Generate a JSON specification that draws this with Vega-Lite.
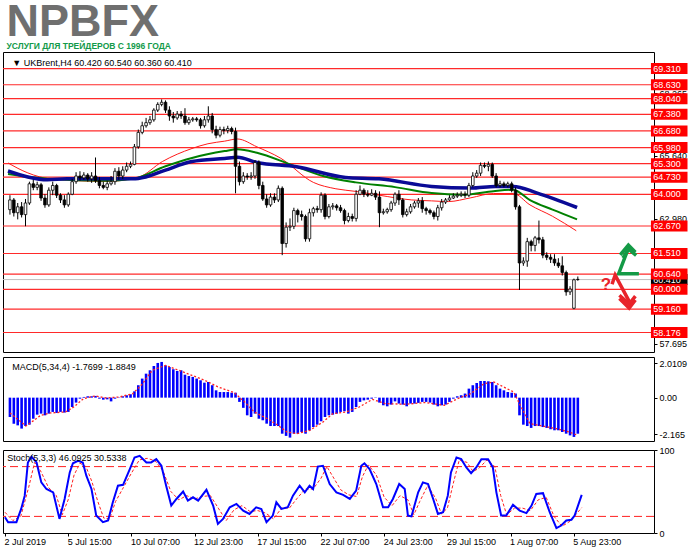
{
"$schema": "https://vega.github.io/schema/vega-lite/v6.json",
"padding": 0,
"background": "#ffffff",
"spacing": 3,
"title": {"text": "NPBFX", "subtitle": "УСЛУГИ ДЛЯ ТРЕЙДЕРОВ С 1996 ГОДА", "anchor": "start", "dx": 6, "font": "Liberation Sans", "fontSize": 45, "fontWeight": "bold", "color": "#6f6f6f", "subtitleFont": "Liberation Sans", "subtitleFontSize": 8.5, "subtitleFontWeight": "bold", "subtitleColor": "#139a4a", "subtitlePadding": -3, "offset": 1},
"config": {"view": {"stroke": "#000000", "strokeWidth": 1}, "font": "Liberation Sans", "axis": {"labelFont": "Liberation Sans", "labelFontSize": 9, "labelColor": "#000000", "tickColor": "#000000", "domain": false, "grid": false, "tickSize": 3}},
"datasets": {
"candles": [
{"i":0,"o":63.36,"h":63.97,"l":63.15,"c":63.77},
{"i":1,"o":63.77,"h":63.85,"l":63.07,"c":63.23},
{"i":2,"o":63.23,"h":63.64,"l":62.95,"c":63.48},
{"i":3,"o":63.48,"h":63.68,"l":63.03,"c":63.15},
{"i":4,"o":63.15,"h":63.81,"l":62.66,"c":63.64},
{"i":5,"o":63.64,"h":64.54,"l":63.56,"c":64.45},
{"i":6,"o":64.45,"h":64.62,"l":64.18,"c":64.30},
{"i":7,"o":64.30,"h":64.54,"l":64.18,"c":64.41},
{"i":8,"o":64.41,"h":64.49,"l":63.73,"c":63.85},
{"i":9,"o":63.85,"h":64.01,"l":63.44,"c":63.56},
{"i":10,"o":63.56,"h":64.30,"l":63.48,"c":64.18},
{"i":11,"o":64.18,"h":64.54,"l":63.97,"c":64.38},
{"i":12,"o":64.38,"h":64.45,"l":63.85,"c":63.97},
{"i":13,"o":63.97,"h":64.05,"l":63.64,"c":63.77},
{"i":14,"o":63.77,"h":63.97,"l":63.44,"c":63.56},
{"i":15,"o":63.56,"h":64.09,"l":63.48,"c":64.01},
{"i":16,"o":64.01,"h":64.66,"l":63.97,"c":64.54},
{"i":17,"o":64.54,"h":64.94,"l":64.45,"c":64.78},
{"i":18,"o":64.78,"h":64.98,"l":64.58,"c":64.70},
{"i":19,"o":64.70,"h":64.94,"l":64.62,"c":64.82},
{"i":20,"o":64.82,"h":64.90,"l":64.54,"c":64.66},
{"i":21,"o":64.66,"h":64.94,"l":64.49,"c":64.78},
{"i":22,"o":64.78,"h":65.56,"l":64.49,"c":64.58},
{"i":23,"o":64.58,"h":64.74,"l":64.26,"c":64.38},
{"i":24,"o":64.38,"h":64.54,"l":64.22,"c":64.30},
{"i":25,"o":64.30,"h":64.58,"l":64.18,"c":64.45},
{"i":26,"o":64.45,"h":64.78,"l":64.38,"c":64.54},
{"i":27,"o":64.54,"h":65.11,"l":64.41,"c":64.98},
{"i":28,"o":64.98,"h":65.15,"l":64.62,"c":64.78},
{"i":29,"o":64.78,"h":65.19,"l":64.66,"c":65.03},
{"i":30,"o":65.03,"h":65.35,"l":64.94,"c":65.19},
{"i":31,"o":65.19,"h":65.39,"l":65.11,"c":65.27},
{"i":32,"o":65.27,"h":66.13,"l":65.23,"c":66.01},
{"i":33,"o":66.01,"h":66.74,"l":65.93,"c":66.62},
{"i":34,"o":66.62,"h":67.07,"l":66.54,"c":66.90},
{"i":35,"o":66.90,"h":67.23,"l":66.82,"c":67.03},
{"i":36,"o":67.03,"h":67.31,"l":66.94,"c":67.15},
{"i":37,"o":67.15,"h":67.64,"l":67.07,"c":67.56},
{"i":38,"o":67.56,"h":67.89,"l":67.48,"c":67.80},
{"i":39,"o":67.80,"h":68.01,"l":67.72,"c":67.89},
{"i":40,"o":67.89,"h":67.97,"l":67.44,"c":67.56},
{"i":41,"o":67.56,"h":67.72,"l":67.11,"c":67.31},
{"i":42,"o":67.31,"h":67.48,"l":67.03,"c":67.23},
{"i":43,"o":67.23,"h":67.52,"l":67.15,"c":67.39},
{"i":44,"o":67.39,"h":67.52,"l":67.19,"c":67.31},
{"i":45,"o":67.31,"h":67.64,"l":66.94,"c":67.03},
{"i":46,"o":67.03,"h":67.27,"l":66.94,"c":67.15},
{"i":47,"o":67.15,"h":67.27,"l":67.07,"c":67.19},
{"i":48,"o":67.19,"h":67.27,"l":67.07,"c":67.15},
{"i":49,"o":67.15,"h":67.23,"l":66.78,"c":66.90},
{"i":50,"o":66.90,"h":67.31,"l":66.82,"c":67.15},
{"i":51,"o":67.15,"h":67.72,"l":67.03,"c":67.31},
{"i":52,"o":67.31,"h":67.44,"l":66.58,"c":66.74},
{"i":53,"o":66.74,"h":66.90,"l":66.37,"c":66.50},
{"i":54,"o":66.50,"h":66.86,"l":66.41,"c":66.74},
{"i":55,"o":66.74,"h":66.86,"l":66.54,"c":66.70},
{"i":56,"o":66.70,"h":66.90,"l":66.58,"c":66.78},
{"i":57,"o":66.78,"h":66.86,"l":66.54,"c":66.66},
{"i":58,"o":66.66,"h":66.82,"l":64.05,"c":65.19},
{"i":59,"o":65.19,"h":65.39,"l":64.38,"c":64.54},
{"i":60,"o":64.54,"h":64.94,"l":64.45,"c":64.78},
{"i":61,"o":64.78,"h":64.90,"l":64.62,"c":64.74},
{"i":62,"o":64.74,"h":64.94,"l":64.62,"c":64.78},
{"i":63,"o":64.78,"h":65.44,"l":64.66,"c":65.35},
{"i":64,"o":65.35,"h":65.44,"l":64.22,"c":64.38},
{"i":65,"o":64.38,"h":64.54,"l":63.73,"c":63.81},
{"i":66,"o":63.81,"h":64.01,"l":63.44,"c":63.56},
{"i":67,"o":63.56,"h":64.05,"l":63.48,"c":63.89},
{"i":68,"o":63.89,"h":64.05,"l":63.64,"c":63.77},
{"i":69,"o":63.77,"h":64.38,"l":63.68,"c":64.26},
{"i":70,"o":64.26,"h":64.34,"l":61.44,"c":61.93},
{"i":71,"o":61.93,"h":62.82,"l":61.76,"c":62.62},
{"i":72,"o":62.62,"h":62.99,"l":62.46,"c":62.66},
{"i":73,"o":62.66,"h":63.44,"l":62.54,"c":63.32},
{"i":74,"o":63.32,"h":63.40,"l":62.82,"c":63.15},
{"i":75,"o":63.15,"h":63.32,"l":62.90,"c":63.07},
{"i":76,"o":63.07,"h":63.15,"l":62.01,"c":62.13},
{"i":77,"o":62.13,"h":63.40,"l":62.01,"c":63.23},
{"i":78,"o":63.23,"h":63.48,"l":63.07,"c":63.40},
{"i":79,"o":63.40,"h":63.52,"l":63.23,"c":63.36},
{"i":80,"o":63.36,"h":64.09,"l":63.23,"c":63.97},
{"i":81,"o":63.97,"h":64.05,"l":62.95,"c":63.07},
{"i":82,"o":63.07,"h":63.60,"l":62.99,"c":63.48},
{"i":83,"o":63.48,"h":63.64,"l":63.36,"c":63.52},
{"i":84,"o":63.52,"h":63.60,"l":63.32,"c":63.44},
{"i":85,"o":63.44,"h":63.56,"l":63.23,"c":63.32},
{"i":86,"o":63.32,"h":63.40,"l":62.74,"c":62.90},
{"i":87,"o":62.90,"h":63.23,"l":62.82,"c":63.07},
{"i":88,"o":63.07,"h":63.19,"l":62.86,"c":62.99},
{"i":89,"o":62.99,"h":64.18,"l":62.86,"c":64.01},
{"i":90,"o":64.01,"h":64.38,"l":63.97,"c":64.18},
{"i":91,"o":64.18,"h":64.26,"l":63.89,"c":64.01},
{"i":92,"o":64.01,"h":64.18,"l":63.89,"c":63.97},
{"i":93,"o":63.97,"h":64.22,"l":63.93,"c":64.05},
{"i":94,"o":64.05,"h":64.18,"l":63.77,"c":63.89},
{"i":95,"o":63.89,"h":64.13,"l":62.62,"c":63.23},
{"i":96,"o":63.23,"h":63.40,"l":63.15,"c":63.27},
{"i":97,"o":63.27,"h":63.44,"l":63.19,"c":63.36},
{"i":98,"o":63.36,"h":63.73,"l":63.27,"c":63.64},
{"i":99,"o":63.64,"h":64.09,"l":63.52,"c":64.01},
{"i":100,"o":64.01,"h":64.18,"l":63.56,"c":63.77},
{"i":101,"o":63.77,"h":63.85,"l":63.03,"c":63.15},
{"i":102,"o":63.15,"h":63.40,"l":63.07,"c":63.27},
{"i":103,"o":63.27,"h":63.60,"l":63.19,"c":63.48},
{"i":104,"o":63.48,"h":63.73,"l":63.40,"c":63.64},
{"i":105,"o":63.64,"h":63.85,"l":63.44,"c":63.73},
{"i":106,"o":63.73,"h":63.89,"l":63.23,"c":63.40},
{"i":107,"o":63.40,"h":63.48,"l":63.15,"c":63.32},
{"i":108,"o":63.32,"h":63.40,"l":63.15,"c":63.23},
{"i":109,"o":63.23,"h":63.32,"l":62.95,"c":63.07},
{"i":110,"o":63.07,"h":63.56,"l":62.90,"c":63.44},
{"i":111,"o":63.44,"h":63.81,"l":63.32,"c":63.68},
{"i":112,"o":63.68,"h":63.85,"l":63.60,"c":63.77},
{"i":113,"o":63.77,"h":63.97,"l":63.73,"c":63.85},
{"i":114,"o":63.85,"h":64.05,"l":63.81,"c":63.93},
{"i":115,"o":63.93,"h":64.09,"l":63.85,"c":63.97},
{"i":116,"o":63.97,"h":64.13,"l":63.89,"c":64.01},
{"i":117,"o":64.01,"h":64.13,"l":63.85,"c":63.97},
{"i":118,"o":63.97,"h":64.49,"l":63.89,"c":64.38},
{"i":119,"o":64.38,"h":64.94,"l":64.30,"c":64.78},
{"i":120,"o":64.78,"h":65.03,"l":64.70,"c":64.90},
{"i":121,"o":64.90,"h":65.35,"l":64.78,"c":65.23},
{"i":122,"o":65.23,"h":65.35,"l":65.11,"c":65.19},
{"i":123,"o":65.19,"h":65.39,"l":64.98,"c":65.27},
{"i":124,"o":65.27,"h":65.35,"l":64.70,"c":64.78},
{"i":125,"o":64.78,"h":64.90,"l":64.30,"c":64.38},
{"i":126,"o":64.38,"h":64.58,"l":64.30,"c":64.45},
{"i":127,"o":64.45,"h":64.54,"l":64.30,"c":64.38},
{"i":128,"o":64.38,"h":64.54,"l":64.30,"c":64.45},
{"i":129,"o":64.45,"h":64.54,"l":64.09,"c":64.18},
{"i":130,"o":64.18,"h":64.30,"l":63.36,"c":63.48},
{"i":131,"o":63.48,"h":63.56,"l":59.97,"c":61.11},
{"i":132,"o":61.11,"h":61.35,"l":60.99,"c":61.19},
{"i":133,"o":61.19,"h":62.17,"l":60.95,"c":62.01},
{"i":134,"o":62.01,"h":62.09,"l":61.60,"c":61.85},
{"i":135,"o":61.85,"h":62.25,"l":61.60,"c":62.17},
{"i":136,"o":62.17,"h":62.90,"l":61.93,"c":62.09},
{"i":137,"o":62.09,"h":62.21,"l":61.31,"c":61.44},
{"i":138,"o":61.44,"h":61.56,"l":61.23,"c":61.35},
{"i":139,"o":61.35,"h":61.48,"l":61.11,"c":61.27},
{"i":140,"o":61.27,"h":61.48,"l":60.99,"c":61.11},
{"i":141,"o":61.11,"h":61.31,"l":60.90,"c":60.99},
{"i":142,"o":60.99,"h":61.39,"l":60.58,"c":60.71},
{"i":143,"o":60.71,"h":60.79,"l":59.73,"c":59.89},
{"i":144,"o":59.89,"h":60.13,"l":59.76,"c":60.01},
{"i":145,"o":59.20,"h":60.45,"l":59.16,"c":60.40},
{"i":146,"o":60.42,"h":60.54,"l":60.36,"c":60.41}
],
"levels": [{"level":69.31},{"level":68.63},{"level":68.04},{"level":67.38},{"level":66.68},{"level":65.98},{"level":65.30},{"level":64.73},{"level":64.00},{"level":62.67},{"level":61.51},{"level":60.64},{"level":60.00},{"level":59.16},{"level":58.176}],
"cur": [{"p":60.41}],
"ma": [
{"ma":"slow","i":-0.5,"p":64.99},{"ma":"slow","i":4.6,"p":64.74},{"ma":"slow","i":9.6,"p":64.62},{"ma":"slow","i":14.7,"p":64.66},{"ma":"slow","i":24.8,"p":64.66},{"ma":"slow","i":31.6,"p":64.66},{"ma":"slow","i":34.9,"p":64.74},{"ma":"slow","i":40,"p":65.03},{"ma":"slow","i":46.8,"p":65.39},{"ma":"slow","i":55.2,"p":65.52},{"ma":"slow","i":58.5,"p":65.57},{"ma":"slow","i":63.5,"p":65.35},{"ma":"slow","i":73.7,"p":65.17},{"ma":"slow","i":86.3,"p":64.72},{"ma":"slow","i":94.9,"p":64.66},{"ma":"slow","i":108.4,"p":64.34},{"ma":"slow","i":118.5,"p":64.27},{"ma":"slow","i":124.8,"p":64.34},{"ma":"slow","i":129.4,"p":64.34},{"ma":"slow","i":135.4,"p":64.07},{"ma":"slow","i":145.8,"p":63.45},
{"ma":"mid","i":-0.5,"p":64.86},{"ma":"mid","i":9.6,"p":64.66},{"ma":"mid","i":24.8,"p":64.58},{"ma":"mid","i":31.6,"p":64.66},{"ma":"mid","i":40,"p":65.19},{"ma":"mid","i":46.8,"p":65.54},{"ma":"mid","i":55.2,"p":65.83},{"ma":"mid","i":58.5,"p":65.91},{"ma":"mid","i":63.5,"p":65.76},{"ma":"mid","i":72.2,"p":65.26},{"ma":"mid","i":80.5,"p":64.78},{"ma":"mid","i":88.9,"p":64.51},{"ma":"mid","i":99,"p":64.31},{"ma":"mid","i":108.4,"p":64.06},{"ma":"mid","i":116.7,"p":63.99},{"ma":"mid","i":124.3,"p":64.14},{"ma":"mid","i":129.4,"p":64.2},{"ma":"mid","i":133.7,"p":63.76},{"ma":"mid","i":139.5,"p":63.36},{"ma":"mid","i":145.8,"p":62.95},
{"ma":"fast","i":-0.5,"p":65.33},{"ma":"fast","i":4.6,"p":64.91},{"ma":"fast","i":10.4,"p":64.66},{"ma":"fast","i":24.8,"p":64.55},{"ma":"fast","i":33.2,"p":64.74},{"ma":"fast","i":39.2,"p":65.39},{"ma":"fast","i":46.8,"p":65.94},{"ma":"fast","i":50.9,"p":66.14},{"ma":"fast","i":55.2,"p":66.25},{"ma":"fast","i":58.5,"p":66.34},{"ma":"fast","i":63.5,"p":66.01},{"ma":"fast","i":69.6,"p":65.53},{"ma":"fast","i":78,"p":64.51},{"ma":"fast","i":83.8,"p":64.24},{"ma":"fast","i":88.9,"p":64.13},{"ma":"fast","i":94.9,"p":63.97},{"ma":"fast","i":103.3,"p":63.77},{"ma":"fast","i":108.4,"p":63.73},{"ma":"fast","i":112.7,"p":63.7},{"ma":"fast","i":118.5,"p":63.86},{"ma":"fast","i":124.3,"p":64.04},{"ma":"fast","i":129.4,"p":64.04},{"ma":"fast","i":133.7,"p":63.56},{"ma":"fast","i":139.5,"p":63.08},{"ma":"fast","i":145.6,"p":62.47}
],
"arrows": [
{"dir":"up","seg":"u0","k":0,"i":161.7,"p":60.66},{"dir":"up","seg":"u0","k":1,"i":156.5,"p":60.66},{"dir":"up","seg":"u0","k":2,"i":159,"p":61.73},
{"dir":"up","seg":"u1","k":0,"i":156.9,"p":61.45},{"dir":"up","seg":"u1","k":1,"i":159,"p":61.86},{"dir":"up","seg":"u1","k":2,"i":160.8,"p":61.56},
{"dir":"up","seg":"u2","k":0,"i":157.6,"p":61.32},{"dir":"up","seg":"u2","k":1,"i":159,"p":61.7},{"dir":"up","seg":"u2","k":2,"i":161,"p":61.43},
{"dir":"down","seg":"d0","k":0,"i":154.8,"p":60.21},{"dir":"down","seg":"d0","k":1,"i":155.6,"p":60.6},{"dir":"down","seg":"d0","k":2,"i":159.8,"p":59.31},
{"dir":"down","seg":"d1","k":0,"i":156.7,"p":59.61},{"dir":"down","seg":"d1","k":1,"i":159.2,"p":59.21},{"dir":"down","seg":"d1","k":2,"i":160.8,"p":59.55},
{"dir":"down","seg":"d2","k":0,"i":156.7,"p":59.75},{"dir":"down","seg":"d2","k":1,"i":159.2,"p":59.38},{"dir":"down","seg":"d2","k":2,"i":160.8,"p":59.71}
],
"macd": [
{"i":0,"v":-1.14},{"i":1,"v":-1.53},{"i":2,"v":-1.63},{"i":3,"v":-1.82},{"i":4,"v":-1.67},{"i":5,"v":-1.59},{"i":6,"v":-1.24},{"i":7,"v":-1.0},{"i":8,"v":-0.94},{"i":9,"v":-1.04},
{"i":10,"v":-0.94},{"i":11,"v":-0.84},{"i":12,"v":-0.9},{"i":13,"v":-0.84},{"i":14,"v":-0.88},{"i":15,"v":-0.84},{"i":16,"v":-0.55},{"i":17,"v":-0.29},{"i":18,"v":-0.06},{"i":19,"v":0.04},
{"i":20,"v":0.08},{"i":21,"v":0.08},{"i":22,"v":0.1},{"i":23,"v":-0.06},{"i":24,"v":-0.12},{"i":25,"v":-0.1},{"i":26,"v":-0.22},{"i":27,"v":-0.06},{"i":28,"v":-0.02},{"i":29,"v":0.08},
{"i":30,"v":0.14},{"i":31,"v":0.2},{"i":32,"v":0.37},{"i":33,"v":0.73},{"i":34,"v":1.12},{"i":35,"v":1.41},{"i":36,"v":1.61},{"i":37,"v":1.86},{"i":38,"v":2.04},{"i":39,"v":2.1},
{"i":40,"v":1.9},{"i":41,"v":1.8},{"i":42,"v":1.67},{"i":43,"v":1.57},{"i":44,"v":1.61},{"i":45,"v":1.35},{"i":46,"v":1.27},{"i":47,"v":1.22},{"i":48,"v":1.12},{"i":49,"v":1.02},
{"i":50,"v":0.88},{"i":51,"v":0.92},{"i":52,"v":0.73},{"i":53,"v":0.43},{"i":54,"v":0.33},{"i":55,"v":0.33},{"i":56,"v":0.33},{"i":57,"v":0.29},{"i":58,"v":0.29},{"i":59,"v":-0.25},
{"i":60,"v":-0.6},{"i":61,"v":-1.04},{"i":62,"v":-1.14},{"i":63,"v":-0.94},{"i":64,"v":-1.24},{"i":65,"v":-1.33},{"i":66,"v":-1.53},{"i":67,"v":-1.67},{"i":68,"v":-1.67},{"i":69,"v":-1.67},
{"i":70,"v":-2.12},{"i":71,"v":-2.25},{"i":72,"v":-2.35},{"i":73,"v":-2.12},{"i":74,"v":-2.12},{"i":75,"v":-2.02},{"i":76,"v":-2.12},{"i":77,"v":-1.92},{"i":78,"v":-1.73},{"i":79,"v":-1.59},
{"i":80,"v":-1.39},{"i":81,"v":-1.14},{"i":82,"v":-1.04},{"i":83,"v":-1.0},{"i":84,"v":-0.94},{"i":85,"v":-0.84},{"i":86,"v":-0.8},{"i":87,"v":-0.94},{"i":88,"v":-0.84},{"i":89,"v":-0.55},
{"i":90,"v":-0.25},{"i":91,"v":-0.16},{"i":92,"v":-0.12},{"i":93,"v":-0.06},{"i":94,"v":-0.02},{"i":95,"v":-0.29},{"i":96,"v":-0.45},{"i":97,"v":-0.51},{"i":98,"v":-0.41},{"i":99,"v":-0.22},
{"i":100,"v":-0.35},{"i":101,"v":-0.41},{"i":102,"v":-0.51},{"i":103,"v":-0.35},{"i":104,"v":-0.35},{"i":105,"v":-0.31},{"i":106,"v":-0.25},{"i":107,"v":-0.25},{"i":108,"v":-0.29},{"i":109,"v":-0.41},
{"i":110,"v":-0.51},{"i":111,"v":-0.45},{"i":112,"v":-0.41},{"i":113,"v":-0.25},{"i":114,"v":-0.06},{"i":115,"v":0.08},{"i":116,"v":0.14},{"i":117,"v":0.24},{"i":118,"v":0.53},{"i":119,"v":0.73},
{"i":120,"v":0.86},{"i":121,"v":0.98},{"i":122,"v":0.98},{"i":123,"v":0.96},{"i":124,"v":0.92},{"i":125,"v":0.73},{"i":126,"v":0.53},{"i":127,"v":0.43},{"i":128,"v":0.33},{"i":129,"v":0.29},
{"i":130,"v":0.24},{"i":131,"v":-1.04},{"i":132,"v":-1.59},{"i":133,"v":-1.67},{"i":134,"v":-1.78},{"i":135,"v":-1.67},{"i":136,"v":-1.67},{"i":137,"v":-1.73},{"i":138,"v":-1.78},{"i":139,"v":-1.86},
{"i":140,"v":-1.92},{"i":141,"v":-1.92},{"i":142,"v":-2.02},{"i":143,"v":-2.12},{"i":144,"v":-2.22},{"i":145,"v":-2.31},{"i":146,"v":-2.12}
],
"macdsig": [
{"i":0,"s":-0.9},{"i":4.1,"s":-1.67},{"i":6.2,"s":-1.33},{"i":7.9,"s":-1.04},{"i":10.5,"s":-0.9},{"i":14.3,"s":-0.84},{"i":16.4,"s":-0.55},{"i":18.9,"s":-0.06},{"i":21.9,"s":0.1},{"i":24.8,"s":-0.02},{"i":28.2,"s":0.04},{"i":31.6,"s":0.24},{"i":34.1,"s":0.82},{"i":36.6,"s":1.61},{"i":40,"s":1.9},{"i":43.4,"s":1.61},{"i":46.8,"s":1.31},{"i":50.1,"s":1.02},{"i":53.5,"s":0.63},{"i":57.7,"s":0.29},{"i":60.3,"s":-0.25},{"i":62.8,"s":-0.84},{"i":66.2,"s":-1.24},{"i":68.7,"s":-1.59},{"i":71.2,"s":-2.02},{"i":73.8,"s":-2.12},{"i":77.1,"s":-1.92},{"i":80.5,"s":-1.43},{"i":83,"s":-0.94},{"i":86.4,"s":-0.84},{"i":89.8,"s":-0.55},{"i":93.2,"s":-0.1},{"i":96.5,"s":-0.35},{"i":101.6,"s":-0.39},{"i":106.7,"s":-0.29},{"i":111.7,"s":-0.45},{"i":115.1,"s":-0.06},{"i":118.5,"s":0.24},{"i":121.9,"s":0.82},{"i":124.4,"s":0.92},{"i":126.9,"s":0.63},{"i":129.5,"s":0.33},{"i":131.2,"s":-0.45},{"i":133.7,"s":-1.53},{"i":137,"s":-1.67},{"i":140.4,"s":-1.82},{"i":143.8,"s":-2.02},{"i":146,"s":-2.22}
],
"stoch": [
{"i":0,"k":19},{"i":0.8,"k":13},{"i":2.9,"k":13},{"i":4.1,"k":29},{"i":5,"k":45},{"i":5.8,"k":85},{"i":6.7,"k":92},{"i":8,"k":85},{"i":9.2,"k":61},{"i":10.5,"k":53},{"i":12.2,"k":49},{"i":13,"k":33},{"i":13.8,"k":17},{"i":15.1,"k":41},{"i":16.4,"k":73},{"i":17.2,"k":84},{"i":18.5,"k":87},{"i":19.7,"k":85},{"i":20.6,"k":69},{"i":21.9,"k":53},{"i":23.1,"k":21},{"i":24.8,"k":13},{"i":26.1,"k":15},{"i":27.3,"k":37},{"i":28.6,"k":57},{"i":29.9,"k":58},{"i":31.6,"k":77},{"i":32.8,"k":91},{"i":34.1,"k":93},{"i":35.8,"k":85},{"i":37,"k":85},{"i":38.3,"k":89},{"i":39.6,"k":81},{"i":40.8,"k":57},{"i":42.1,"k":33},{"i":43.4,"k":41},{"i":45.1,"k":50},{"i":46.3,"k":39},{"i":47.6,"k":43},{"i":48.9,"k":39},{"i":51,"k":52},{"i":52.7,"k":33},{"i":53.9,"k":11},{"i":55.2,"k":17},{"i":56.9,"k":31},{"i":58.6,"k":35},{"i":60.3,"k":27},{"i":61.9,"k":23},{"i":63.6,"k":31},{"i":64.9,"k":29},{"i":66.2,"k":13},{"i":67.8,"k":21},{"i":68.7,"k":37},{"i":70,"k":29},{"i":71.6,"k":31},{"i":72.9,"k":45},{"i":74.6,"k":57},{"i":75.9,"k":49},{"i":77.1,"k":57},{"i":78,"k":53},{"i":79.2,"k":80},{"i":80.5,"k":81},{"i":82.2,"k":59},{"i":83.9,"k":49},{"i":85.6,"k":46},{"i":87.3,"k":41},{"i":88.9,"k":51},{"i":90.2,"k":81},{"i":91,"k":84},{"i":92.3,"k":77},{"i":94,"k":59},{"i":95.7,"k":31},{"i":97,"k":31},{"i":98.2,"k":41},{"i":99.8,"k":59},{"i":101.2,"k":53},{"i":102,"k":21},{"i":102.9,"k":20},{"i":104.6,"k":49},{"i":105.8,"k":61},{"i":107.1,"k":59},{"i":108.4,"k":41},{"i":109.6,"k":23},{"i":110.9,"k":25},{"i":112.1,"k":45},{"i":112.9,"k":73},{"i":114.3,"k":91},{"i":115.5,"k":89},{"i":116.8,"k":79},{"i":118,"k":72},{"i":119.3,"k":79},{"i":120.6,"k":89},{"i":122.3,"k":89},{"i":123.5,"k":79},{"i":124.4,"k":49},{"i":125.6,"k":21},{"i":126.9,"k":21},{"i":128.6,"k":34},{"i":130.3,"k":27},{"i":132,"k":24},{"i":133.3,"k":33},{"i":134.5,"k":47},{"i":136.2,"k":48},{"i":137.9,"k":25},{"i":139.6,"k":6},{"i":140.8,"k":9},{"i":142.1,"k":15},{"i":143.4,"k":16},{"i":144.2,"k":21},{"i":146,"k":46}
],
"stochsig": [
{"i":0,"d":25},{"i":2,"d":15},{"i":4,"d":20},{"i":6,"d":55},{"i":7.5,"d":85},{"i":9,"d":75},{"i":11,"d":55},{"i":13,"d":45},{"i":14.5,"d":22},{"i":16,"d":40},{"i":17.5,"d":70},{"i":19,"d":84},{"i":20.5,"d":80},{"i":22,"d":62},{"i":23.5,"d":38},{"i":25,"d":18},{"i":26.5,"d":17},{"i":28,"d":38},{"i":30,"d":55},{"i":32,"d":72},{"i":34,"d":88},{"i":36,"d":90},{"i":38,"d":87},{"i":40,"d":75},{"i":42,"d":50},{"i":44,"d":40},{"i":46,"d":45},{"i":48,"d":41},{"i":50,"d":44},{"i":52,"d":45},{"i":54,"d":30},{"i":56,"d":15},{"i":58,"d":28},{"i":60,"d":33},{"i":62,"d":26},{"i":64,"d":27},{"i":66,"d":24},{"i":68,"d":17},{"i":70,"d":30},{"i":72,"d":30},{"i":74,"d":42},{"i":76,"d":53},{"i":78,"d":53},{"i":80,"d":66},{"i":81.5,"d":80},{"i":83,"d":68},{"i":85,"d":52},{"i":87,"d":46},{"i":89,"d":44},{"i":90.5,"d":68},{"i":92,"d":82},{"i":94,"d":70},{"i":96,"d":43},{"i":98,"d":33},{"i":100,"d":45},{"i":102,"d":40},{"i":103.5,"d":22},{"i":105,"d":38},{"i":107,"d":57},{"i":109,"d":42},{"i":110.5,"d":23},{"i":112,"d":30},{"i":113.5,"d":60},{"i":115,"d":88},{"i":117,"d":85},{"i":118.5,"d":74},{"i":120,"d":78},{"i":122,"d":88},{"i":124,"d":80},{"i":125.5,"d":45},{"i":127,"d":22},{"i":129,"d":30},{"i":131,"d":30},{"i":133,"d":27},{"i":135,"d":40},{"i":137,"d":43},{"i":139,"d":20},{"i":141,"d":8},{"i":143,"d":14},{"i":145,"d":25},{"i":146,"d":30.5}
],
"stochlv": [{"lv":80},{"lv":20}],
"one": [{"n":1}]
},
"vconcat": [
{
"width": 651, "height": 300,
"layer": [
{"data":{"name":"levels"},"mark":{"type":"rule","color":"#ff2a2a","strokeWidth":1.2},
 "encoding":{"y":{"field":"level","type":"quantitative","title":null,"scale":{"domain":[57.565,69.8],"nice":false,"zero":false},
   "axis":{"orient":"right","values":[69.595,68.265,66.97,65.64,64.31,62.98,61.65,60.32,59.025,57.695],"labelExpr":"format(datum.value,'.3f')","tickSize":3,"labelPadding":2,"labelFontSize":9}}}},
{"data":{"name":"cur"},"mark":{"type":"rule","color":"#c0c0c0","strokeWidth":1},"encoding":{"y":{"field":"p","type":"quantitative","title":null}}},
{"data":{"name":"ma"},"transform":[{"filter":"datum.ma == 'fast'"}],"mark":{"type":"line","color":"#ff1a1a","strokeWidth":1,"interpolate":"monotone"},
 "encoding":{"x":{"field":"i","type":"quantitative","scale":{"domain":[-0.5,164.3],"nice":false,"zero":false},"axis":null},"y":{"field":"p","type":"quantitative","title":null}}},
{"data":{"name":"ma"},"transform":[{"filter":"datum.ma == 'mid'"}],"mark":{"type":"line","color":"#008000","strokeWidth":2,"interpolate":"monotone"},
 "encoding":{"x":{"field":"i","type":"quantitative","axis":null},"y":{"field":"p","type":"quantitative","title":null}}},
{"data":{"name":"ma"},"transform":[{"filter":"datum.ma == 'slow'"}],"mark":{"type":"line","color":"#0a0a96","strokeWidth":3.5,"interpolate":"monotone"},
 "encoding":{"x":{"field":"i","type":"quantitative","axis":null},"y":{"field":"p","type":"quantitative","title":null}}},
{"data":{"name":"candles"},"mark":{"type":"rule","color":"#000000","strokeWidth":1},
 "encoding":{"x":{"field":"i","type":"quantitative","axis":null},"y":{"field":"l","type":"quantitative","title":null},"y2":{"field":"h"}}},
{"data":{"name":"candles"},"mark":{"type":"bar","width":2.6,"stroke":"#000000","strokeWidth":0.8},
 "encoding":{"x":{"field":"i","type":"quantitative","axis":null},"y":{"field":"o","type":"quantitative","title":null},"y2":{"field":"c"},
   "fill":{"condition":{"test":"datum.c < datum.o","value":"#000000"},"value":"#ffffff"}}},
{"data":{"name":"arrows"},"mark":{"type":"line","strokeWidth":3.5,"strokeJoin":"miter","strokeCap":"butt"},
 "encoding":{"x":{"field":"i","type":"quantitative","axis":null},"y":{"field":"p","type":"quantitative","title":null},"detail":{"field":"seg"},"order":{"field":"k"},
   "color":{"field":"dir","type":"nominal","legend":null,"scale":{"domain":["up","down"],"range":["#149a46","#e8232a"]}}}},
{"data":{"name":"one"},"mark":{"type":"text","text":"?","color":"#e8232a","fontSize":17,"fontWeight":"bold","font":"Liberation Sans"},
 "encoding":{"x":{"datum":153.2,"type":"quantitative","axis":null},"y":{"datum":60.2,"type":"quantitative","title":null}}},
{"data":{"name":"one"},"mark":{"type":"text","text":"▼  UKBrent,H4  60.420 60.540 60.360 60.410","align":"left","baseline":"middle","fontSize":9,"color":"#000000","font":"Liberation Sans"},
 "encoding":{"x":{"datum":0.6,"type":"quantitative","axis":null},"y":{"datum":69.55,"type":"quantitative","title":null}}},
{"data":{"name":"cur"},"mark":{"type":"bar","height":11,"color":"#000000"},
 "encoding":{"x":{"datum":164.8,"type":"quantitative","axis":null},"x2":{"datum":174.2},"y":{"field":"p","type":"quantitative","title":null}}},
{"data":{"name":"cur"},"mark":{"type":"text","align":"left","baseline":"middle","fontSize":9,"color":"#ffffff","font":"Liberation Sans"},
 "encoding":{"x":{"datum":165.4,"type":"quantitative","axis":null},"y":{"field":"p","type":"quantitative","title":null},"text":{"field":"p","format":".3f"}}},
{"data":{"name":"levels"},"mark":{"type":"bar","height":11,"color":"#ff0000"},
 "encoding":{"x":{"datum":164.8,"type":"quantitative","axis":null},"x2":{"datum":174.2},"y":{"field":"level","type":"quantitative","title":null}}},
{"data":{"name":"levels"},"mark":{"type":"text","align":"left","baseline":"middle","fontSize":9,"color":"#ffffff","font":"Liberation Sans"},
 "encoding":{"x":{"datum":165.4,"type":"quantitative","axis":null},"y":{"field":"level","type":"quantitative","title":null},"text":{"field":"level","format":".3f"}}}
]
},
{
"width": 651, "height": 84,
"layer": [
{"data":{"name":"macd"},"mark":{"type":"bar","width":2.6,"color":"#0000ff"},
 "encoding":{"x":{"field":"i","type":"quantitative","scale":{"domain":[-0.5,164.3],"nice":false,"zero":false},"axis":null},
   "y":{"field":"v","type":"quantitative","title":null,"scale":{"domain":[-2.55,2.39],"nice":false,"zero":false},
     "axis":{"orient":"right","values":[2.0109,0,-2.165],"labelExpr":"datum.value == 0 ? '0.00' : (datum.value > 0 ? '2.0109' : '-2.165')","tickSize":3,"labelPadding":2,"labelFontSize":9}},
   "y2":{"datum":0}}},
{"data":{"name":"macdsig"},"mark":{"type":"line","color":"#ff2020","strokeWidth":1.3,"strokeDash":[2,2]},
 "encoding":{"x":{"field":"i","type":"quantitative","axis":null},"y":{"field":"s","type":"quantitative","title":null}}},
{"data":{"name":"one"},"mark":{"type":"text","text":"MACD(5,34,4) -1.7699 -1.8849","align":"left","baseline":"middle","fontSize":9,"color":"#000000","font":"Liberation Sans"},
 "encoding":{"x":{"datum":0.6,"type":"quantitative","axis":null},"y":{"datum":1.78,"type":"quantitative","title":null}}}
]
},
{
"width": 651, "height": 83,
"layer": [
{"data":{"name":"stochlv"},"mark":{"type":"rule","color":"#ff2020","strokeWidth":1,"strokeDash":[8,4]},
 "encoding":{"y":{"field":"lv","type":"quantitative","title":null,"scale":{"domain":[0,100],"nice":false},
   "axis":{"orient":"right","values":[100,80,20,0],"tickSize":3,"labelPadding":2,"labelFontSize":9}}}},
{"data":{"name":"stochsig"},"mark":{"type":"line","color":"#ff2020","strokeWidth":1,"strokeDash":[3,2]},
 "encoding":{"x":{"field":"i","type":"quantitative","title":null},"y":{"field":"d","type":"quantitative","title":null}}},
{"data":{"name":"stoch"},"mark":{"type":"line","color":"#0000ff","strokeWidth":2},
 "encoding":{"x":{"field":"i","type":"quantitative","title":null,"scale":{"domain":[-0.5,164.3],"nice":false,"zero":false},
   "axis":{"values":[0,16,32,48,64,80,96,112,128,144],"labelExpr":"['2 Jul 2019','5 Jul 15:00','10 Jul 07:00','12 Jul 23:00','17 Jul 15:00','22 Jul 07:00','24 Jul 23:00','29 Jul 15:00','1 Aug 07:00','5 Aug 23:00'][round(datum.value/16)]","labelAlign":"left","labelOffset":-1,"labelFontSize":9,"tickSize":3,"labelPadding":1,"labelFlush":false,"labelOverlap":false}},
   "y":{"field":"k","type":"quantitative","title":null}}},
{"data":{"name":"one"},"mark":{"type":"text","text":"Stoch(5,3,3) 46.0925 30.5338","align":"left","baseline":"middle","fontSize":9,"color":"#000000","font":"Liberation Sans"},
 "encoding":{"x":{"datum":0.6,"type":"quantitative"},"y":{"datum":90,"type":"quantitative","title":null}}}
]
}
]
}
